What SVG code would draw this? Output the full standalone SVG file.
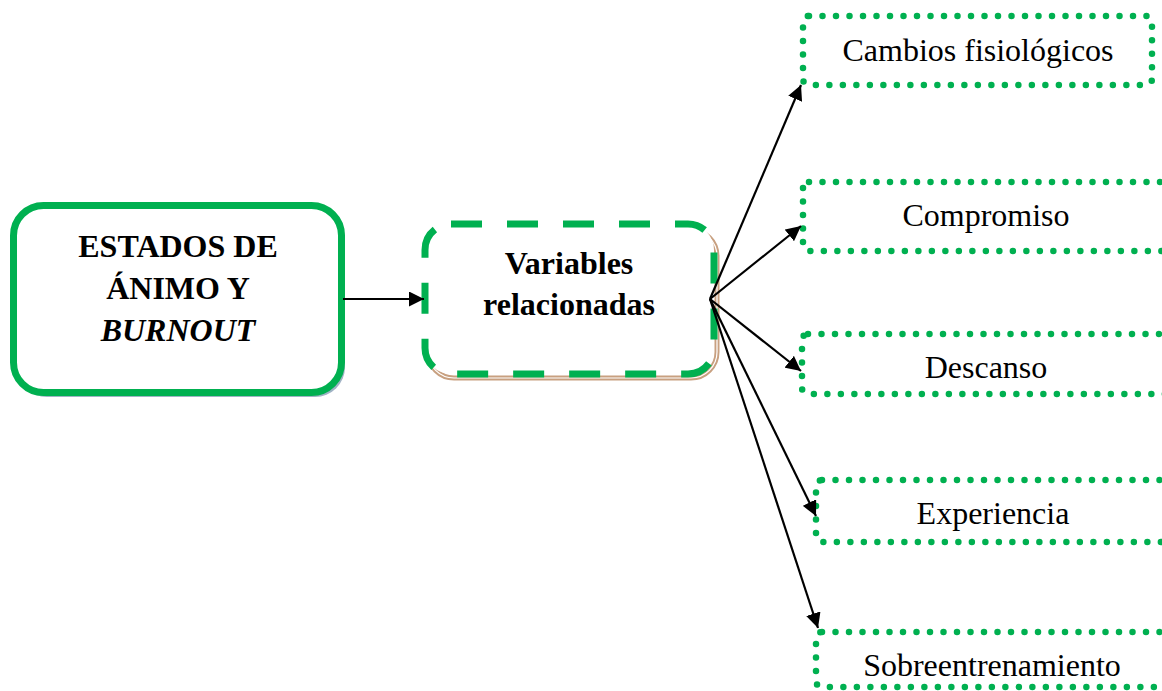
<svg xmlns="http://www.w3.org/2000/svg" width="1162" height="691" viewBox="0 0 1162 691">
<style>
.bold{font-family:"Liberation Serif","Times New Roman",serif;font-weight:bold;font-size:32px;fill:#000;text-anchor:middle}
.reg{font-family:"Liberation Serif","Times New Roman",serif;font-size:32px;fill:#000;text-anchor:middle}
.dot{fill:none;stroke:#00b050;stroke-width:6.5;stroke-linecap:round;stroke-dasharray:0 13.5}
.conn{stroke:#000;stroke-width:2.2;fill:none}
</style>
<defs>
<marker id="ah2" viewBox="0 0 10 10" refX="10" refY="5" markerWidth="15" markerHeight="15" markerUnits="userSpaceOnUse" orient="auto">
<path d="M0,0 L10,5 L0,10 z" fill="#000"/>
</marker>
</defs>
<rect width="1162" height="691" fill="#fff"/>
<g id="node-estados">
<rect x="17" y="209" width="328" height="188" rx="30" fill="#9fb2c4"/>
<rect x="13.5" y="205.5" width="328" height="187" rx="30" fill="#fff" stroke="#00b050" stroke-width="7"/>
<text class="bold" x="178" y="257">ESTADOS DE</text>
<text class="bold" x="178" y="299">ÁNIMO Y</text>
<text class="bold" x="178" y="341" font-style="italic">BURNOUT</text>
</g>
<g id="node-variables">
<rect x="428" y="230" width="289" height="148" rx="26" fill="#fff" stroke="#c8a080" stroke-width="5"/>
<rect x="428" y="230" width="289" height="148" rx="26" fill="none" stroke="#fff" stroke-width="1.2"/>
<rect x="425" y="224" width="289" height="150" rx="26" fill="#fff" stroke="#00b050" stroke-width="7" stroke-dasharray="31 25"/>
<text class="bold" x="569" y="274">Variables</text>
<text class="bold" x="569" y="315">relacionadas</text>
</g>
<g id="node-cambios">
<rect x="803" y="16" width="349" height="69" rx="6" fill="#fff" class="dot"/>
<text class="reg" x="978" y="61">Cambios fisiológicos</text>
</g>
<g id="node-compromiso">
<rect x="803" y="182" width="380" height="69" rx="6" fill="#fff" class="dot"/>
<text class="reg" x="986" y="226">Compromiso</text>
</g>
<g id="node-descanso">
<rect x="802" y="334" width="380" height="60" rx="6" fill="#fff" class="dot"/>
<text class="reg" x="986" y="378">Descanso</text>
</g>
<g id="node-experiencia">
<rect x="816" y="480" width="370" height="62" rx="6" fill="#fff" class="dot"/>
<text class="reg" x="993" y="524">Experiencia</text>
</g>
<g id="node-sobre">
<rect x="816" y="632" width="370" height="55" rx="6" fill="#fff" class="dot"/>
<text class="reg" x="992" y="676">Sobreentrenamiento</text>
</g>
<g id="connectors">
<line class="conn" x1="343" y1="299" x2="424" y2="299" marker-end="url(#ah2)"/>
<line class="conn" x1="710" y1="299" x2="801" y2="85" marker-end="url(#ah2)"/>
<line class="conn" x1="710" y1="299" x2="801" y2="226" marker-end="url(#ah2)"/>
<line class="conn" x1="710" y1="299" x2="801" y2="371" marker-end="url(#ah2)"/>
<line class="conn" x1="710" y1="299" x2="816" y2="516" marker-end="url(#ah2)"/>
<line class="conn" x1="710" y1="299" x2="818" y2="628" marker-end="url(#ah2)"/>
</g>
</svg>
